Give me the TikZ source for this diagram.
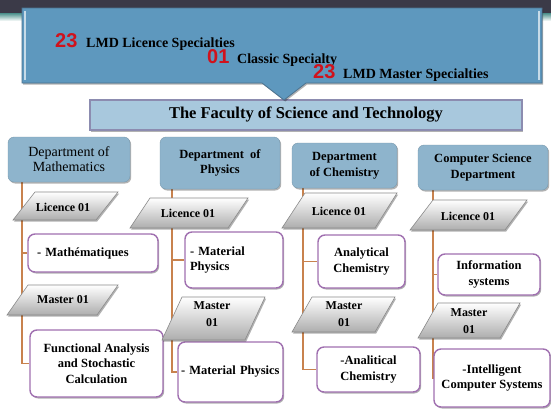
\documentclass[tikz,border=0pt]{standalone}
\usepackage{fontspec}
\setmainfont{Liberation Serif}[BoldFont={Liberation Serif Bold}]
\newfontfamily\numfont{Liberation Sans}[BoldFont={Liberation Sans Bold}]
\usetikzlibrary{shadows,calc}
\pgfdeclarelayer{back}
\pgfdeclarelayer{bg}
\pgfsetlayers{back,bg,main}
\definecolor{topdark}{HTML}{3B3A48}
\definecolor{tealline}{HTML}{4A8F8A}
\definecolor{callblue}{HTML}{5E98BE}
\definecolor{callborder}{HTML}{4C7390}
\definecolor{facblue}{HTML}{A8C8DD}
\definecolor{facborder}{HTML}{8C8CB0}
\definecolor{deptblue}{HTML}{8EB4CC}
\definecolor{leafpurple}{HTML}{A070B0}
\definecolor{connorange}{HTML}{C8824E}
\definecolor{numred}{HTML}{D0121C}
\definecolor{paraborder}{HTML}{8A8A8A}
\begin{document}
\begin{tikzpicture}[x=1pt,y=-1pt,
  shd/.style={drop shadow={shadow xshift=1.2pt,shadow yshift=-1.5pt,opacity=0.3,fill=black}},
  dept/.style={shd,fill=deptblue,rounded corners=6pt,draw=deptblue!85!black,line width=0.4pt,inner sep=0pt,align=center,font=\fontsize{12.5}{15.5}\selectfont\bfseries},
  leaf/.style={shd,fill=white,draw=leafpurple,line width=1.4pt,rounded corners=7pt,inner sep=0pt,align=center,font=\fontsize{12.5}{15.5}\selectfont\bfseries},
  para/.style={shd,top color=white,bottom color=black!32,draw=paraborder,line width=0.6pt},
  paratext/.style={inner sep=0pt,align=center,font=\fontsize{12}{17}\selectfont\bfseries},
  conn/.style={draw=connorange,line width=1.3pt},
  calltext/.style={anchor=base west,inner sep=0pt,font=\fontsize{14}{16}\selectfont\bfseries},
  callnum/.style={anchor=base west,inner sep=0pt,text=numred,font=\numfont\fontsize{20}{22}\selectfont\bfseries},
]
\useasboundingbox (0,0) rectangle (551,408);
\begin{pgfonlayer}{back}
\fill[white] (0,0) rectangle (551,408);
\end{pgfonlayer}
% top bar
\fill[topdark] (0,0) rectangle (551,13);
\shade[top color=tealline,bottom color=white] (0,13) rectangle (551,21);

% faculty box
\node[shd,fill=facblue,draw=facborder,line width=1.1pt,minimum width=432pt,minimum height=30pt,inner sep=0pt,font=\fontsize{16.5}{18}\selectfont\bfseries] (fac) at (306,115) {The Faculty of Science and Technology};

% callout
\path[shd,fill=callblue,draw=callborder,line width=0.8pt] (22,8) -- (542,8) -- (542,83) -- (306,83) -- (284,100) -- (262,83) -- (22,83) -- cycle;
\draw[white!65!callblue,line width=1.2pt] (25,11) -- (25,80);
\draw[white!65!callblue,line width=1.2pt] (539,11) -- (539,80);
\node[callnum] (n1) at (55,47) {23};
\node[calltext] (t1) at (86,47) {LMD Licence Specialties};
\node[callnum] (n2) at (207,63) {01};
\node[calltext] (t2) at (237,63) {Classic Specialty};
\node[callnum] (n3) at (313,78) {23};
\node[calltext] (t3) at (343,78) {LMD Master Specialties};

% departments
\node[dept,minimum width=122pt,minimum height=45pt,font=\fontsize{14}{15}\selectfont] (md) at (69,159.5) {Department of\\Mathematics};
\node[dept,minimum width=120pt,minimum height=52pt] (pd) at (220,163) {Department~~of\\Physics};
\node[dept,minimum width=105pt,minimum height=45pt] (cd) at (344.5,165.5) {Department\\of Chemistry};
\node[dept,minimum width=130pt,minimum height=45pt] (sd) at (483,167.5) {Computer Science\\Department};

% leaf boxes
\node[leaf,minimum width=130pt,minimum height=38pt,text width=112pt,inner xsep=9pt,align=left] (mL) at (93,253) {- Mathématiques};
\node[leaf,minimum width=133pt,minimum height=67pt] (mM) at (96.5,363.5) {Functional Analysis\\and Stochastic\\Calculation};
\node[leaf,minimum width=98pt,minimum height=56pt,text width=88pt,inner xsep=5pt,align=left] (pL) at (234,260) {- Material\\Physics};
\node[leaf,minimum width=105pt,minimum height=60pt,text width=99pt,inner xsep=3pt,align=left] (pM) at (230.5,372) {- Material Physics};
\node[leaf,minimum width=87pt,minimum height=53pt] (cL) at (361.5,261.5) {Analytical\\Chemistry};
\node[leaf,minimum width=103pt,minimum height=45pt] (cM) at (368.5,369.5) {-Analitical\\Chemistry};
\node[leaf,minimum width=102pt,minimum height=41pt] (sL) at (489,274.5) {Information\\systems};
\node[leaf,minimum width=116pt,minimum height=58pt] (sM) at (492,378) {-Intelligent\\Computer Systems};

% parallelograms
\path[para] (13,220) -- (35,192) -- (118,192) -- (96,220) -- cycle;
\node[paratext] (mLp) at (63,207) {Licence 01};
\path[para] (130,228) -- (150,198) -- (248,198) -- (228,228) -- cycle;
\node[paratext] (pLp) at (188,213) {Licence 01};
\path[para] (282,228) -- (305,193) -- (397,193) -- (375,228) -- cycle;
\node[paratext] (cLp) at (339,211) {Licence 01};
\path[para] (410,230) -- (433,200) -- (527,200) -- (505,230) -- cycle;
\node[paratext] (sLp) at (468,216) {Licence 01};
\path[para] (7,315) -- (28,285) -- (118,285) -- (97,315) -- cycle;
\node[paratext] (mMp) at (63,300) {Master 01};
\path[para] (162,340) -- (182,297) -- (265,297) -- (245,340) -- cycle;
\node[paratext] (pMp) at (212,314) {Master\\01};
\path[para] (292,332) -- (312,297) -- (395,297) -- (375,332) -- cycle;
\node[paratext] (cMp) at (344,314) {Master\\01};
\path[para] (418,338) -- (438,303) -- (520,303) -- (500,338) -- cycle;
\node[paratext] (sMp) at (469,321) {Master\\01};

% connectors
\coordinate (mx) at (22,0);
\coordinate (px) at (172,0);
\coordinate (cx) at (303,0);
\coordinate (sx) at (433,0);
\begin{pgfonlayer}{bg}
\draw[conn] (md.south -| mx) |- (mL.west);
\draw[conn] (md.south -| mx) |- (mM.west);
\draw[conn] (pd.south -| px) |- (pL.west);
\draw[conn] (pd.south -| px) |- (pM.west);
\draw[conn] (cd.south -| cx) |- (cL.west);
\draw[conn] (cd.south -| cx) |- (cM.west);
\draw[conn] (sd.south -| sx) |- (sL.west);
\draw[conn] (sd.south -| sx) |- (sM.west);
\end{pgfonlayer}
\end{tikzpicture}
\end{document}
